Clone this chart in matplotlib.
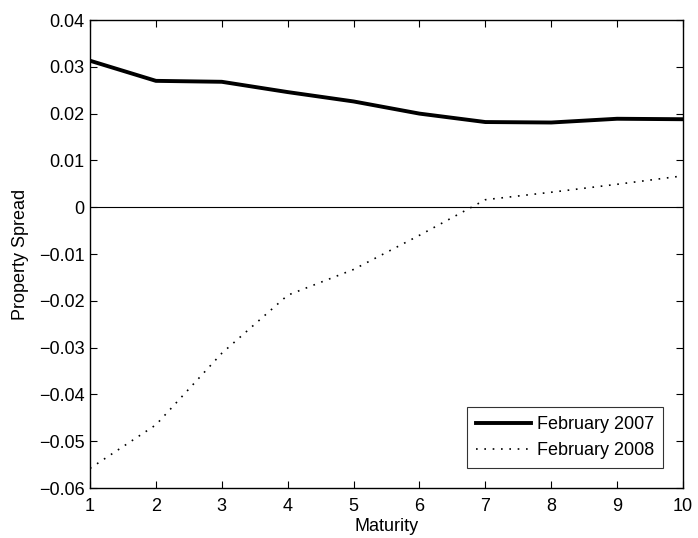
import numpy as np
import matplotlib.pyplot as plt
from matplotlib.ticker import FuncFormatter

plt.rcParams['font.family'] = ['Liberation Sans', 'DejaVu Sans']

maturity = [1, 2, 3, 4, 5, 6, 7, 8, 9, 10]
feb_2007 = [0.0313, 0.0270, 0.0268, 0.0246, 0.0226, 0.0200, 0.0182, 0.0181, 0.0189, 0.0188]
feb_2008 = [-0.0558, -0.0465, -0.0312, -0.0188, -0.0133, -0.0060, 0.0016, 0.0032, 0.0049, 0.0067]

fig = plt.figure(figsize=(6.98, 5.38), dpi=100)
ax = fig.add_axes([0.129, 0.0929, 0.8495, 0.8699])

ax.axhline(0, color='black', lw=0.8)
ax.plot(maturity, feb_2007, color='black', lw=2.8, label='February 2007')
ax.plot(maturity, feb_2008, color='black', lw=1.2, linestyle=(0, (1, 4)), label='February 2008')

ax.set_xlim(1, 10)
ax.set_ylim(-0.06, 0.04)
ax.set_xticks(maturity)
ax.set_yticks(np.arange(-0.06, 0.041, 0.01))

def fmt(v, pos):
    if abs(v) < 1e-9:
        return '0'
    return ('%.2f' % v).replace('-', '\u2212')

ax.yaxis.set_major_formatter(FuncFormatter(fmt))
ax.tick_params(direction='in', top=True, right=True, labelsize=13, length=5, width=0.8, pad=4)
ax.tick_params(axis='x', pad=7)
for s in ax.spines.values():
    s.set_linewidth(1.0)

ax.set_xlabel('Maturity', fontsize=13, labelpad=2)
ax.set_ylabel('Property Spread', fontsize=13, labelpad=7)

leg = ax.legend(loc='lower right', fontsize=13, frameon=True, fancybox=False,
                edgecolor='black', borderaxespad=1.1, handlelength=3.0, borderpad=0.5,
                labelspacing=0.5, handletextpad=0.35)
leg.get_frame().set_linewidth(0.8)

fig.savefig('out.png', dpi=100)
